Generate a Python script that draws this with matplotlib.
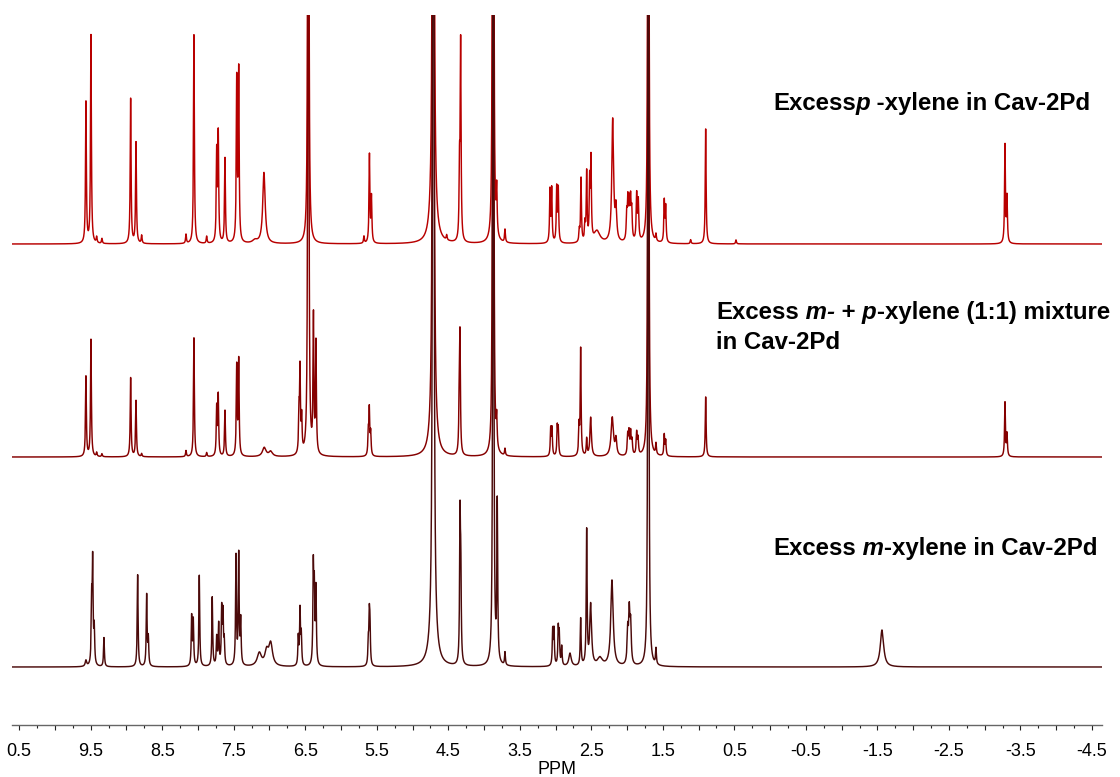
import matplotlib
matplotlib.use("Agg")
import matplotlib.pyplot as plt
import numpy as np

plt.rcParams['font.family'] = ['Liberation Sans', 'DejaVu Sans']

# ---------------- data (peak lists) ----------------
top_ppm = [
    9.566, 9.496, 9.416, 9.342,
    8.941, 8.866, 8.787, 8.167, 8.056, 7.878,
    7.738, 7.716, 7.622, 7.458, 7.430, 7.203, 7.077,
    6.457, 5.679, 5.602, 5.574,
    4.710, 4.710, 4.522, 4.343, 4.327,
    3.885, 3.871, 3.823, 3.707,
    3.078, 3.054, 2.984, 2.962, 2.668, 2.644, 2.589, 2.565, 2.523, 2.505, 2.421,
    2.201, 2.155, 2.005, 1.989, 1.970, 1.951, 1.935, 1.866, 1.843,
    1.703, 1.596, 1.480, 1.460, 1.111, 0.901, 0.477, -3.284, -3.312]
top_h = [
    141, 208, 6, 5,
    145, 101, 8, 9, 209, 7,
    89, 107, 85, 161, 170, 3, 71,
    2500, 7, 88, 45,
    2500, 35, 5, 68, 197,
    103, 2500, 45, 13,
    52, 53, 54, 53, 11, 64, 17, 69, 58, 79, 12,
    123, 31, 25, 38, 35, 38, 28, 46, 39,
    2500, 7, 41, 35, 4, 115, 4, 98, 45]
top_w = [
    .007, .007, .007, .007,
    .007, .007, .007, .007, .007, .007,
    .007, .007, .007, .007, .007, .04, .02,
    .004, .007, .007, .007,
    .006, .04, .007, .007, .007,
    .007, .004, .007, .007,
    .007, .007, .007, .007, .007, .007, .007, .007, .007, .007, .05,
    .015, .012, .008, .008, .008, .008, .008, .008, .008,
    .004, .007, .007, .007, .007, .007, .007, .007, .007]

mid_ppm = [
    9.566, 9.496, 9.416, 9.342,
    8.941, 8.866, 8.787, 8.167, 8.056, 7.878,
    7.738, 7.716, 7.622, 7.458, 7.430, 7.073, 6.983,
    6.587, 6.573, 6.550, 6.457, 6.385, 6.350,
    5.618, 5.604, 5.585,
    4.710, 4.710, 4.346, 4.336,
    3.885, 3.871, 3.823, 3.707,
    3.068, 3.050, 2.976, 2.962, 2.672, 2.649, 2.565, 2.509,
    2.207, 2.155, 1.991, 1.973, 1.950, 1.931, 1.866, 1.847,
    1.703, 1.596, 1.480, 1.460, 0.901, -3.284, -3.312]
mid_h = [
    80, 117, 4, 3,
    79, 56, 3, 6, 119, 4,
    48, 60, 46, 89, 95, 9, 5,
    38, 82, 34, 2500, 135, 110,
    22, 45, 22,
    2500, 35, 58, 109,
    68, 2500, 29, 7,
    27, 27, 28, 26, 28, 107, 17, 39,
    39, 16, 20, 22, 22, 14, 22, 16,
    2500, 11, 21, 15, 60, 54, 22]
mid_w = [
    .007, .007, .007, .007,
    .007, .007, .007, .007, .007, .007,
    .007, .007, .007, .007, .007, .03, .03,
    .007, .007, .007, .004, .007, .007,
    .007, .007, .007,
    .006, .04, .007, .007,
    .007, .004, .007, .007,
    .007, .007, .007, .007, .007, .007, .007, .012,
    .02, .012, .008, .008, .008, .008, .008, .008,
    .004, .007, .007, .007, .007, .007, .007]

bot_ppm = [
    9.566, 9.486, 9.472, 9.450, 9.314,
    8.843, 8.717, 8.694, 8.088, 8.065, 7.981,
    7.800, 7.738, 7.710, 7.668, 7.650, 7.632,
    7.468, 7.430, 7.402, 7.142, 7.039, 6.983,
    6.597, 6.573, 6.555, 6.387, 6.373, 6.350,
    5.618, 5.604, 5.595,
    4.710, 4.710, 4.336, 4.325,
    3.871, 3.815, 3.707,
    3.040, 3.022, 2.962, 2.948, 2.914, 2.798,
    2.649, 2.565, 2.509, 2.379, 2.211,
    1.991, 1.969, 1.950, 1.703, 1.596, -1.564]
bot_h = [
    6, 60, 100, 35, 29,
    92, 71, 27, 49, 45, 91,
    69, 28, 41, 55, 50, 23,
    109, 110, 44, 13, 14, 22,
    28, 55, 30, 95, 70, 75,
    22, 45, 35,
    2500, 40, 140, 85,
    2500, 158, 13,
    35, 35, 36, 30, 19, 13,
    47, 134, 61, 8, 86,
    33, 50, 38, 2500, 16, 37]
bot_w = [
    .012, .007, .007, .007, .007,
    .007, .007, .007, .007, .007, .007,
    .007, .007, .007, .007, .007, .007,
    .007, .007, .007, .035, .03, .03,
    .007, .007, .007, .007, .007, .007,
    .007, .007, .007,
    .006, .045, .007, .007,
    .004, .007, .007,
    .007, .007, .007, .007, .007, .02,
    .007, .007, .015, .04, .02,
    .01, .01, .01, .004, .007, .028]

tick_values = [10.5, 9.5, 8.5, 7.5, 6.5, 5.5, 4.5, 3.5, 2.5, 1.5, 0.5,
               -0.5, -1.5, -2.5, -3.5, -4.5]
tick_labels = ["0.5", "9.5", "8.5", "7.5", "6.5", "5.5", "4.5", "3.5", "2.5",
               "1.5", "0.5", "-0.5", "-1.5", "-2.5", "-3.5", "-4.5"]

label_top = [("Excess", "normal"), ("p", "italic"), (" -xylene in Cav-2Pd", "normal")]
label_mid1 = [("Excess", "normal"), (" m-", "italic"), (" + ", "normal"),
              ("p", "italic"), ("-xylene (1:1) mixture", "normal")]
label_mid2 = [("in Cav-2Pd", "normal")]
label_bot = [("Excess", "normal"), (" m", "italic"), ("-xylene in Cav-2Pd", "normal")]

# ---------------- figure ----------------
W, H = 1120, 777
fig = plt.figure(figsize=(W / 100, H / 100), dpi=100)
ax = fig.add_axes([12 / W, 52 / H, 1090 / W, 710 / H])

ppm = np.arange(-4.8, 10.8, 0.0004)


def spectrum(pos, hts, wid):
    y = np.zeros_like(ppm)
    for p, h, w in zip(pos, hts, wid):
        y += h * w * w / ((ppm - p) ** 2 + w * w)
    return y


traces = [
    (top_ppm, top_h, top_w, 481, '#B80000'),
    (mid_ppm, mid_h, mid_w, 268, '#850000'),
    (bot_ppm, bot_h, bot_w, 58, '#4B0A0A'),
]
for pos, hts, wid, off, col in traces:
    ax.plot(ppm, off + spectrum(pos, hts, wid), color=col, lw=1.05)

ax.set_xlim(10.60, -4.64)
ax.set_ylim(0, 710)

half = np.arange(10.5, -4.51, -0.5)
labels = []
for v in half:
    match = [lab for tv, lab in zip(tick_values, tick_labels) if abs(tv - v) < 1e-6]
    labels.append(match[0] if match else "")
ax.set_xticks(half, labels)
ax.set_xticks(np.arange(10.25, -4.6, -0.5), minor=True)
ax.tick_params(axis='x', which='major', direction='out', length=3.6, width=0.8,
               color='#222222', labelsize=13, pad=9)
ax.tick_params(axis='x', which='minor', direction='out', length=2.2, width=0.8,
               color='#222222')
ax.set_yticks([])
for s in ['top', 'left', 'right']:
    ax.spines[s].set_visible(False)
ax.spines['bottom'].set_color('#666666')
ax.spines['bottom'].set_linewidth(1.0)

fig.text(557 / W, (H - 774) / H, "PPM", ha='center', va='baseline', fontsize=13)

renderer = fig.canvas.get_renderer()


def rich(x_px, base_px, parts, size=17.3):
    x = x_px
    for txt, st in parts:
        t = fig.text(x / W, (H - base_px) / H, txt, fontsize=size, fontweight='bold',
                     style=st, ha='left', va='baseline', color='black')
        x += t.get_window_extent(renderer=renderer).width


rich(773, 110, label_top)
rich(716, 319, label_mid1)
rich(716, 349, label_mid2)
rich(773, 555, label_bot)

fig.savefig("out.png", dpi=100)
